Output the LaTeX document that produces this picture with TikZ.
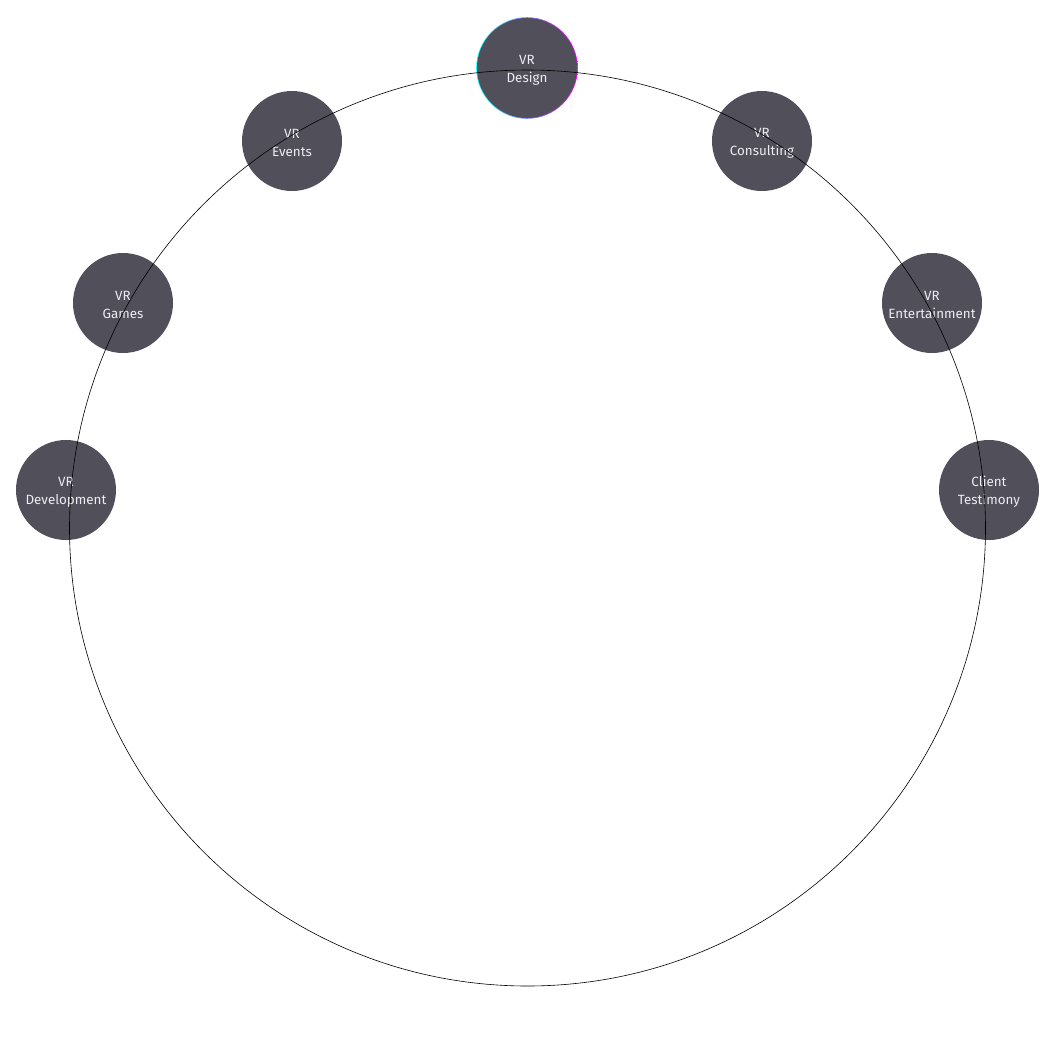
\documentclass[tikz,border=0pt]{standalone}
\usepackage{fontspec}
\setmainfont{Fira Sans}
\definecolor{nodefill}{HTML}{504F5A}
\definecolor{nodetext}{HTML}{ECECF2}
\begin{document}
\begin{tikzpicture}[x=1pt,y=-1pt,
  svc/.style={circle,fill=nodefill,minimum size=100pt,inner sep=0pt},
  lbl/.style={text=nodetext,font=\fontsize{13.4}{18}\selectfont,align=center,yshift=-2pt},
  ring/.style={draw=black,line width=0.6pt}]
\useasboundingbox (0,0) rectangle (1055,1055);
\shade[left color=cyan,right color=magenta,even odd rule] (527,68) circle (50.8) circle (49);
\node[svc] (design) at (527,68) {};
\node[svc] (events) at (292,141) {};
\node[svc] (consult) at (762,141) {};
\node[svc] (games) at (123,303) {};
\node[svc] (ent) at (932,303) {};
\node[svc] (dev) at (66,490) {};
\node[svc] (client) at (989,490) {};
\node[lbl] (designL) at (design) {VR\\Design};
\node[lbl] (eventsL) at (events) {VR\\Events};
\node[lbl] (consultL) at (consult) {VR\\Consulting};
\node[lbl] (gamesL) at (games) {VR\\Games};
\node[lbl] (entL) at (ent) {VR\\Entertainment};
\node[lbl] (devL) at (dev) {VR\\Development};
\node[lbl] (clientL) at (client) {Client\\Testimony};
\coordinate (c) at (527.5,528);
\draw[ring] (c) circle (458);
\end{tikzpicture}
\end{document}
